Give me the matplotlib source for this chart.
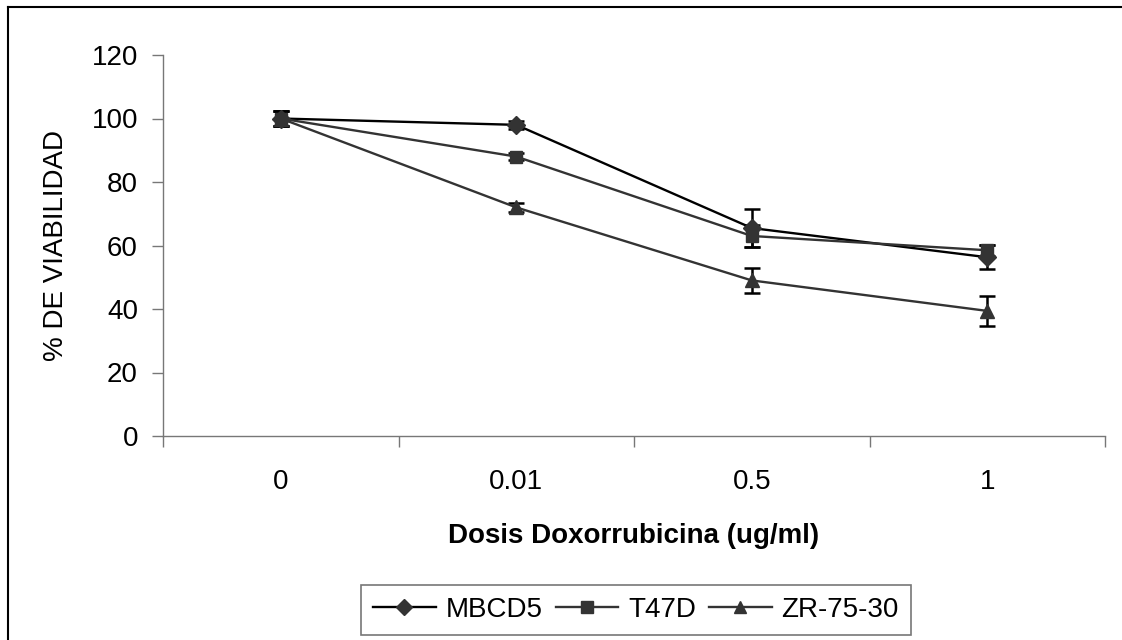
import matplotlib
matplotlib.use("Agg")
import matplotlib.pyplot as plt
from matplotlib.lines import Line2D

plt.rcParams['font.family'] = ['Liberation Sans', 'DejaVu Sans']

doses = ["0", "0.01", "0.5", "1"]
mbcd5 = [100, 98, 65.5, 56.3]
mbcd5_err = [2.5, 1.2, 6.0, 3.8]
t47d = [100, 88, 63, 58.5]
t47d_err = [2.5, 1.2, 3.5, 1.7]
zr = [100, 72, 49, 39.4]
zr_err = [2.5, 1.5, 4.0, 4.8]

W, H = 1122, 640
fig = plt.figure(figsize=(W/100, H/100), dpi=100)
ax = fig.add_axes([163/W, 1-436/H, (1105-163)/W, (436-55)/H])

x = list(range(len(doses)))
series = [
    ("MBCD5", mbcd5, mbcd5_err, "D", "#000000", 9),
    ("T47D", t47d, t47d_err, "s", "#333333", 9),
    ("ZR-75-30", zr, zr_err, "^", "#333333", 10),
]
for name, vals, err, mk, lc, ms in series:
    ax.errorbar(x, vals, yerr=err, fmt='none', ecolor='black', elinewidth=1.8,
                capsize=6, capthick=1.8, zorder=2)
    ax.plot(x, vals, color=lc, lw=1.7, marker=mk, markersize=ms,
            markerfacecolor='#333333', markeredgecolor='#333333', zorder=3, label=name)

ax.set_xlim(-0.5, 3.5)
ax.set_ylim(0, 120)
ax.set_yticks(range(0, 121, 20))
ax.set_xticks([-0.5, 0.5, 1.5, 2.5, 3.5])
ax.set_xticklabels([])
ax.set_xticks(x, minor=True)
ax.set_xticklabels(doses, minor=True)
ax.tick_params(axis='x', which='major', direction='out', length=8, color='#777777', width=1)
ax.tick_params(axis='x', which='minor', length=0, pad=24, labelsize=20)
ax.tick_params(axis='y', direction='out', length=8, color='#777777', width=1, labelsize=20, pad=10)
for s in ['top', 'right']:
    ax.spines[s].set_visible(False)
for s in ['left', 'bottom']:
    ax.spines[s].set_color('#777777')
    ax.spines[s].set_linewidth(1)

ax.set_xlabel("Dosis Doxorrubicina (ug/ml)", fontsize=20, fontweight='bold', labelpad=20)
ax.set_ylabel("% DE VIABILIDAD", fontsize=20, labelpad=16)

handles = [Line2D([], [], color=lc, lw=1.7, marker=mk, markersize=ms*0.9,
                  markerfacecolor='#333333', markeredgecolor='#333333')
           for _, _, _, mk, lc, ms in series]
leg = fig.legend(handles, [s[0] for s in series], loc='center', ncol=3,
                 bbox_to_anchor=(636/W, 1-610/H), fontsize=20, frameon=True,
                 fancybox=False, edgecolor='#555555', handlelength=2.25,
                 columnspacing=0.47, handletextpad=0.36, borderpad=0.42,
                 borderaxespad=0)
leg.get_frame().set_linewidth(1.2)

# outer chart-area border
fig.add_artist(Line2D([8/W, 8/W], [0, 1-7/H], transform=fig.transFigure, color='black', lw=1.5))
fig.add_artist(Line2D([8/W, 1], [1-7/H, 1-7/H], transform=fig.transFigure, color='black', lw=1.5))

fig.savefig("out.png", dpi=100)
